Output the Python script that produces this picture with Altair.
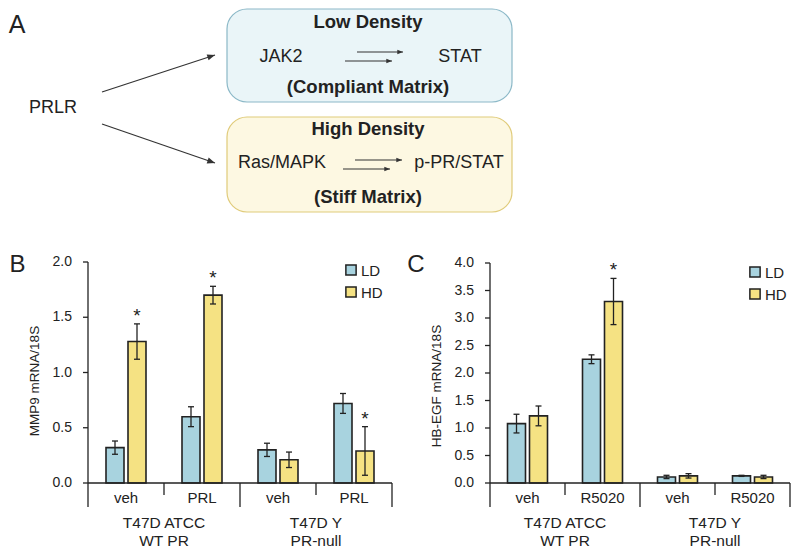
import altair as alt
import pandas as pd
import numpy as np

FONT = "Liberation Sans"
INK = "#222222"
LD_COLOR = "#a8d3df"
HD_COLOR = "#f5e283"

# ---------------- Panel A (schematic) ----------------
A_BOLD = ["Low Density", "(Compliant Matrix)", "High Density", "(Stiff Matrix)"]
A_PLAIN = ["JAK2", "STAT", "Ras/MAPK", "p-PR/STAT", "PRLR"]
A_BOXES = ["low", "high"]
A_BOX_FILL = ["#eaf5f8", "#fdf8e2"]
A_BOX_STROKE = ["#8bb8c7", "#e0cb7a"]

# ---------------- Panel B ----------------
B_IDS = ["ATCC veh", "ATCC PRL", "Y veh", "Y PRL"]
B_TREAT = ["veh", "PRL", "veh", "PRL"]
B_GROUPS = ["T47D ATCC\nWT PR", "T47D Y\nPR-null"]
B_LD = [0.32, 0.60, 0.30, 0.72]
B_LD_SD = [0.06, 0.09, 0.06, 0.09]
B_HD = [1.28, 1.70, 0.21, 0.29]
B_HD_SD = [0.16, 0.08, 0.07, 0.22]
B_HD_STAR = [True, True, False, True]
B_TICKS = [0.0, 0.5, 1.0, 1.5, 2.0]
B_YTITLE = "MMP9 mRNA/18S"

# ---------------- Panel C ----------------
C_IDS = ["ATCC veh", "ATCC R5020", "Y veh", "Y R5020"]
C_TREAT = ["veh", "R5020", "veh", "R5020"]
C_GROUPS = ["T47D ATCC\nWT PR", "T47D Y\nPR-null"]
C_LD = [1.08, 2.25, 0.11, 0.13]
C_LD_SD = [0.17, 0.08, 0.03, 0.01]
C_HD = [1.22, 3.30, 0.13, 0.11]
C_HD_SD = [0.18, 0.42, 0.04, 0.03]
C_HD_STAR = [False, True, False, False]
C_TICKS = [0.0, 0.5, 1.0, 1.5, 2.0, 2.5, 3.0, 3.5, 4.0]
C_YTITLE = "HB-EGF mRNA/18S"
SERIES = ["LD", "HD"]


def one():
    return pd.DataFrame({"k": [0]})


def txt(**kw):
    base = dict(font=FONT, color=INK)
    base.update(kw)
    return base


# ---------- panel A construction ----------
ax = alt.Scale(domain=[0, 784], range=[0, 784], nice=False, zero=False)
ay = alt.Scale(domain=[0, 539], range=[0, 539], nice=False, zero=False)

boxes = pd.DataFrame({
    "box": A_BOXES,
    "x": [219, 219], "x2": [504, 504],
    "y": [1, 109], "y2": [94, 204],
    "fill": A_BOX_FILL, "stroke": A_BOX_STROKE,
})
bold_df = pd.DataFrame({"t": A_BOLD, "x": [360, 360, 360, 360], "y": [20, 85, 127, 195]})
plain_df = pd.DataFrame({"t": A_PLAIN, "x": [273, 452, 274, 451, 45], "y": [54, 54, 160, 160, 105]})
arrows = pd.DataFrame({
    "x": [94, 94, 349, 337, 347, 335],
    "y": [84, 116, 44, 53, 152, 161],
    "x2": [207, 207, 395, 384, 394, 382],
    "y2": [47, 155, 44, 53, 152, 161],
    "hs": [240, 240, 130, 130, 130, 130],
})
arrows["ang"] = np.degrees(np.arctan2(arrows["y2"] - arrows["y"], arrows["x2"] - arrows["x"])) % 360
ARROW_PATH = "M0,0L-1,-0.4L-1,0.4Z"

AX = lambda f: alt.X(f"{f}:Q", scale=ax, axis=None)
AY = lambda f: alt.Y(f"{f}:Q", scale=ay, axis=None)

panelA = alt.layer(
    alt.Chart(boxes).mark_rect(cornerRadius=20, strokeWidth=1.2).encode(
        x=AX("x"), x2="x2:Q", y=AY("y"), y2="y2:Q",
        fill=alt.Fill("fill:N", scale=None), stroke=alt.Stroke("stroke:N", scale=None)),
    alt.Chart(arrows).mark_rule(color="#333333", strokeWidth=1.2).encode(
        x=AX("x"), y=AY("y"), x2="x2:Q", y2="y2:Q"),
    alt.Chart(arrows).mark_point(shape=ARROW_PATH, filled=True, color="#333333", opacity=1).encode(
        x=alt.X("x2:Q", scale=ax, axis=None), y=alt.Y("y2:Q", scale=ay, axis=None),
        angle=alt.Angle("ang:Q", scale=None), size=alt.Size("hs:Q", scale=None)),
    alt.Chart(bold_df).mark_text(**txt(fontSize=18.5, fontWeight="bold", baseline="alphabetic", align="center")).encode(
        x=AX("x"), y=AY("y"), text="t:N"),
    alt.Chart(plain_df).mark_text(**txt(fontSize=18, baseline="alphabetic", align="center")).encode(
        x=AX("x"), y=AY("y"), text="t:N"),
    alt.Chart(one()).mark_text(**txt(fontSize=25, baseline="alphabetic", align="center", text="A")).encode(
        x=alt.value(9), y=alt.value(25)),
)


# ---------- bar panels ----------
def make_panel(ids, treat, groups, ld, ld_sd, hd, hd_sd, stars, ticks, ytitle,
               xr, yr, title_xy, label, label_xy, legend_xy):
    xs = alt.Scale(domain=ids, range=xr, paddingInner=0, paddingOuter=0)
    ys = alt.Scale(domain=[ticks[0], ticks[-1]], range=yr, nice=False, zero=True)

    def X(**kw):
        return alt.X("cat:N", scale=xs, axis=None, **kw)

    def Y(f):
        return alt.Y(f"{f}:Q", scale=ys, axis=None)

    base_y = yr[0]
    layers = []
    for name, vals, sds, off, col in (("LD", ld, ld_sd, -11, LD_COLOR), ("HD", hd, hd_sd, 11, HD_COLOR)):
        v = np.array(vals)
        s = np.array(sds)
        df = pd.DataFrame({"cat": ids, "val": v, "lo": v - s, "hi": v + s})
        layers.append(alt.Chart(df).mark_bar(width=18, xOffset=off, fill=col, stroke=INK,
                                             strokeWidth=1.6).encode(x=X(), y=Y("val")))
        layers.append(alt.Chart(df).mark_rule(xOffset=off, color=INK, strokeWidth=1.3).encode(
            x=X(), y=Y("lo"), y2="hi:Q"))
        for f in ("lo", "hi"):
            layers.append(alt.Chart(df).mark_tick(orient="horizontal", size=6, thickness=1.3,
                                                  xOffset=off, color=INK, opacity=1).encode(x=X(), y=Y(f)))
        if name == "HD":
            sdf = df[np.array(stars)]
            layers.append(alt.Chart(sdf).mark_text(**txt(fontSize=19, text="*", xOffset=off, dy=-2,
                                                         baseline="alphabetic", align="center")).encode(
                x=X(), y=Y("hi")))

    tdf = pd.DataFrame({"v": ticks})
    layers += [
        # axes lines
        alt.Chart(one()).mark_rule(color=INK, strokeWidth=1.3).encode(
            x=alt.value(xr[0]), y=alt.value(yr[1]), y2=alt.value(base_y + 24)),
        alt.Chart(one()).mark_rule(color=INK, strokeWidth=1.3).encode(
            x=alt.value(xr[0]), x2=alt.value(xr[1]), y=alt.value(base_y)),
        alt.Chart(one()).mark_rule(color=INK, strokeWidth=1.3).encode(
            x=alt.value(xr[1]), y=alt.value(base_y), y2=alt.value(base_y + 24)),
        alt.Chart(pd.DataFrame({"cat": [ids[2]]})).mark_rule(color=INK, strokeWidth=1.3).encode(
            x=X(bandPosition=0), y=alt.value(base_y), y2=alt.value(base_y + 24)),
        alt.Chart(pd.DataFrame({"cat": [ids[1], ids[3]]})).mark_rule(color=INK, strokeWidth=1.3).encode(
            x=X(bandPosition=0), y=alt.value(base_y), y2=alt.value(base_y + 12)),
        # y ticks
        alt.Chart(tdf).mark_rule(color=INK, strokeWidth=1.3).encode(
            x=alt.value(xr[0] - 5), x2=alt.value(xr[0]), y=Y("v")),
        alt.Chart(tdf).mark_text(**txt(fontSize=14, align="right", baseline="middle")).encode(
            x=alt.value(xr[0] - 16), y=Y("v"), text=alt.Text("v:Q", format=".1f")),
        # x labels
        alt.Chart(pd.DataFrame({"cat": ids, "lab": treat})).mark_text(
            **txt(fontSize=15, align="center", baseline="alphabetic")).encode(
            x=X(), y=alt.value(base_y + 20), text="lab:N"),
        alt.Chart(pd.DataFrame({"cat": [ids[1], ids[3]], "lab": groups})).mark_text(
            **txt(fontSize=15.5, align="center", baseline="alphabetic", lineBreak="\n", lineHeight=18)).encode(
            x=X(bandPosition=0), y=alt.value(base_y + 44.5), text="lab:N"),
        # y title
        alt.Chart(one()).mark_text(**txt(fontSize=13.5, angle=270, align="center", baseline="middle",
                                         text=ytitle)).encode(
            x=alt.value(title_xy[0]), y=alt.value(title_xy[1])),
        # panel label
        alt.Chart(one()).mark_text(**txt(fontSize=24, align="center", baseline="alphabetic",
                                         text=label)).encode(
            x=alt.value(label_xy[0]), y=alt.value(label_xy[1])),
    ]
    # legend
    lx, ly = legend_xy
    for i, (name, col) in enumerate(zip(SERIES, [LD_COLOR, HD_COLOR])):
        layers.append(alt.Chart(one()).mark_square(size=105, fill=col, stroke=INK, strokeWidth=1.5,
                                                   opacity=1).encode(
            x=alt.value(lx), y=alt.value(ly + 22 * i)))
        layers.append(alt.Chart(one()).mark_text(**txt(fontSize=15, align="left", baseline="alphabetic",
                                                       text=name)).encode(
            x=alt.value(lx + 10), y=alt.value(ly + 22 * i + 5.5)))
    return alt.layer(*layers)


panelB = make_panel(B_IDS, B_TREAT, B_GROUPS, B_LD, B_LD_SD, B_HD, B_HD_SD, B_HD_STAR, B_TICKS, B_YTITLE,
                    xr=[80, 384], yr=[475, 254], title_xy=(27, 373), label="B", label_xy=(9.5, 264),
                    legend_xy=(343, 262))
panelC = make_panel(C_IDS, C_TREAT, C_GROUPS, C_LD, C_LD_SD, C_HD, C_HD_SD, C_HD_STAR, C_TICKS, C_YTITLE,
                    xr=[482, 782], yr=[475, 255], title_xy=(429, 378), label="C", label_xy=(408, 264),
                    legend_xy=(747, 264))

chart = alt.layer(panelA, panelB, panelC).resolve_scale(
    x="independent", y="independent"
).properties(
    width=784, height=539, autosize=alt.AutoSizeParams(type="none"), padding=0
).configure_view(stroke=None)

chart.save("out.html", embed_options={"renderer": "svg", "actions": False})
